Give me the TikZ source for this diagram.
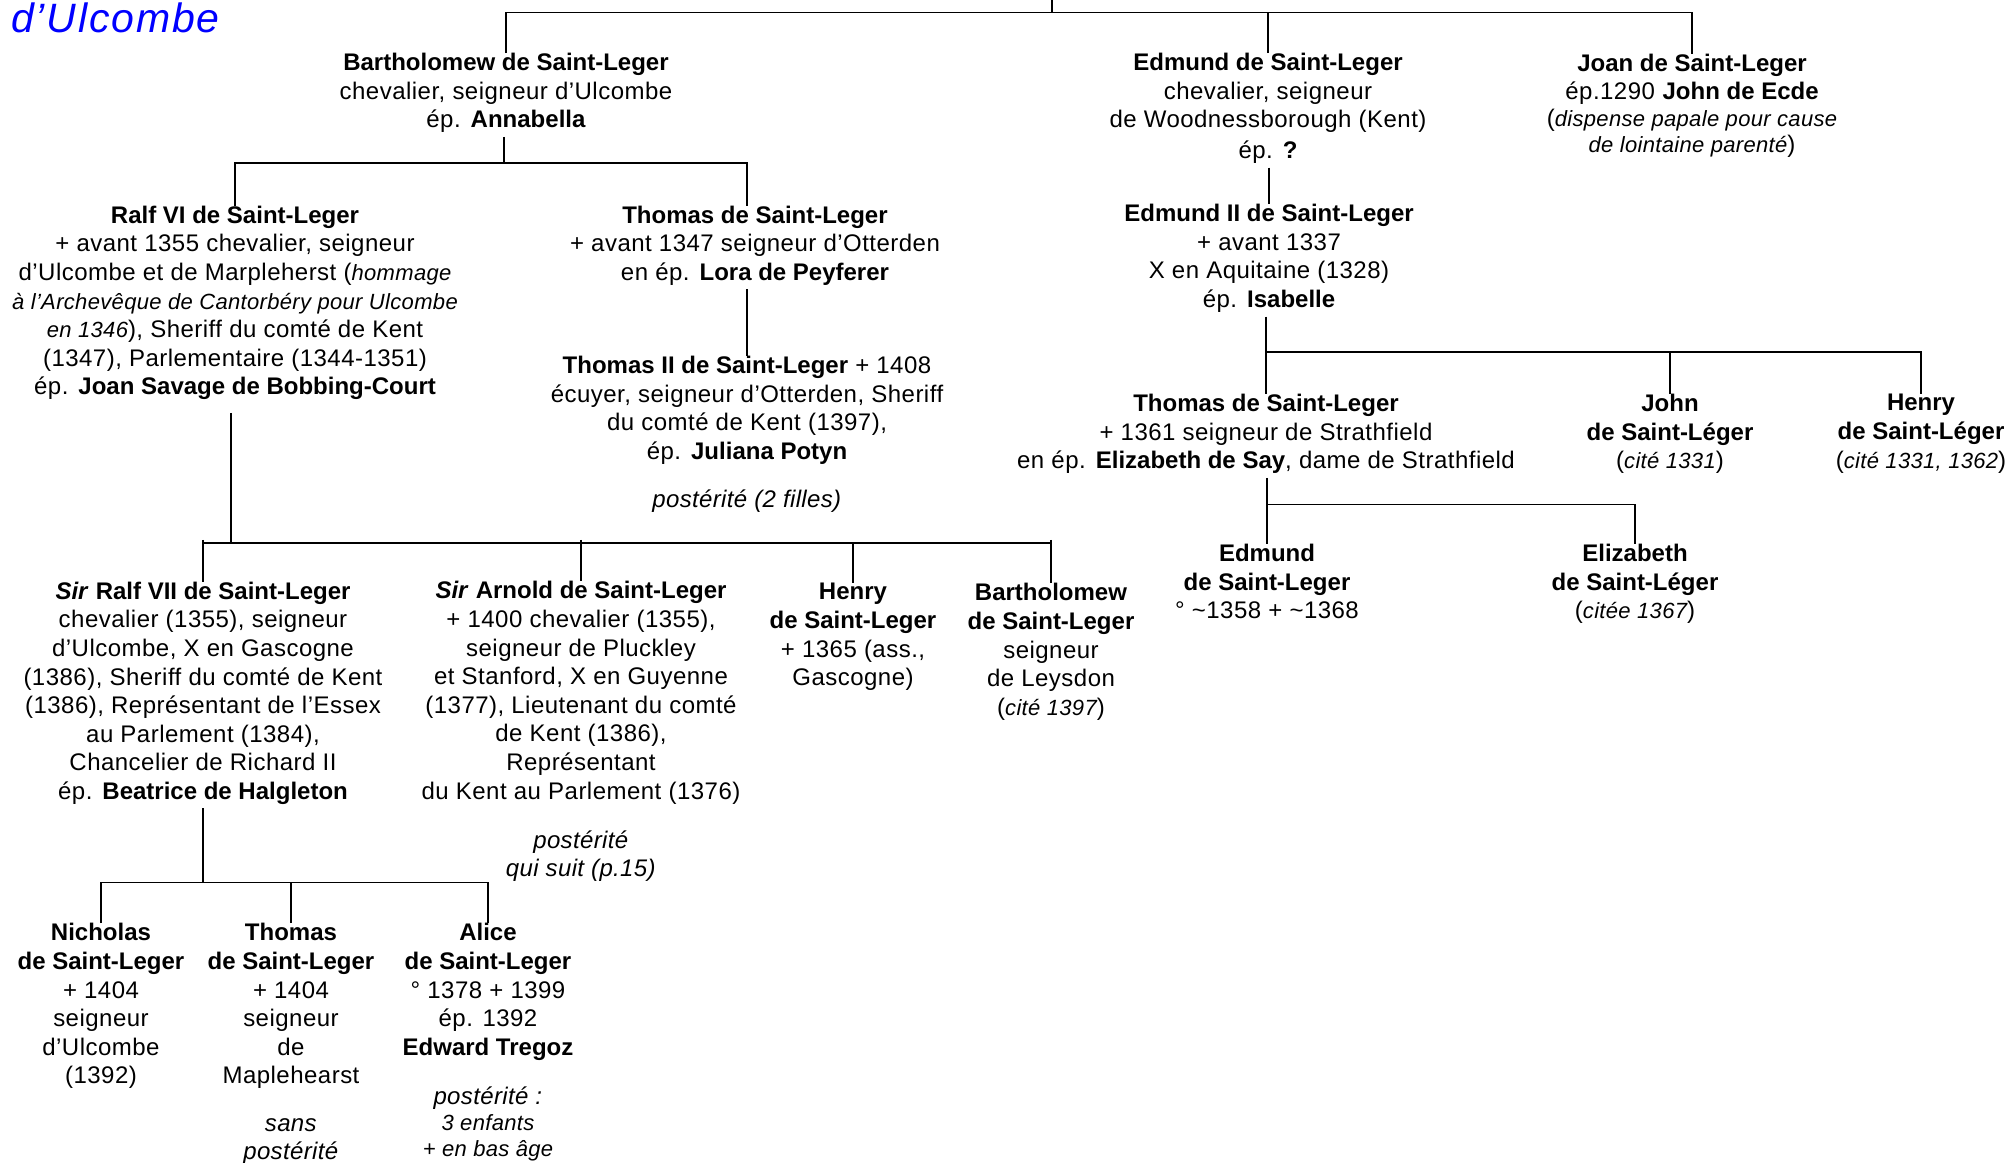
\documentclass[tikz,border=0pt]{standalone}
\usepackage{fontspec}
\setmainfont{Liberation Sans}[UprightFeatures={LetterSpace=2.0},ItalicFeatures={LetterSpace=1.5}]
\newfontfamily\titlefont{Liberation Sans}[LetterSpace=4.4]
\usetikzlibrary{calc}
\definecolor{titleblue}{RGB}{0,0,255}
\newcommand{\smit}[1]{{\fontsize{11}{13}\selectfont\itshape #1}}
\begin{document}
\begin{tikzpicture}[x=0.5pt,y=-0.5pt,
  person/.style={align=center, inner sep=0pt, anchor=north,
    font=\fontsize{12}{14.3}\selectfont, execute at begin node=\strut},
  link/.style={line width=0.8pt},
  tick/.style={line width=0.8pt, shorten <=-1.6pt}]
\useasboundingbox (0,0) rectangle (2010,1163);

\node[anchor=base west, inner sep=0pt, text=titleblue,
  font=\titlefont\fontsize{20.5}{24}\selectfont\itshape] (title) at (11,32.3) {d’Ulcombe};

% generation 1
\node[person] (b1) at (506,53) {\textbf{Bartholomew de Saint-Leger}\\chevalier, seigneur d’Ulcombe\\ép. \textbf{Annabella}};
\node[person] (ed1) at (1268,53) {\textbf{Edmund de Saint-Leger}\\chevalier, seigneur\\de Woodnessborough (Kent)\\[1pt]ép. \textbf{?}};
\node[person] (joan) at (1692,53.5) {\textbf{Joan de Saint-Leger}\\ép.1290 \textbf{John de Ecde}\\[-1.2pt](\smit{dispense papale pour cause}\\[-1.2pt]\smit{de lointaine parenté})};

% generation 2
\node[person] (r6) at (235,205.5) {\textbf{Ralf VI de Saint-Leger}\\+ avant 1355 chevalier, seigneur\\d’Ulcombe et de Marpleherst (\smit{hommage}\\\smit{à l’Archevêque de Cantorbéry pour Ulcombe}\\\smit{en 1346}), Sheriff du comté de Kent\\(1347), Parlementaire (1344-1351)\\ép. \textbf{Joan Savage de Bobbing-Court}};
\node[person] (t1) at (755,205.5) {\textbf{Thomas de Saint-Leger}\\+ avant 1347 seigneur d’Otterden\\en ép. \textbf{Lora de Peyferer}};
\node[person] (ed2) at (1269,204) {\textbf{Edmund II de Saint-Leger}\\+ avant 1337\\X en Aquitaine (1328)\\ép. \textbf{Isabelle}};

\node[person] (t2) at (747,356) {\textbf{Thomas II de Saint-Leger} + 1408\\écuyer, seigneur d’Otterden, Sheriff\\du comté de Kent (1397),\\ép. \textbf{Juliana Potyn}};
\node[person] (t2post) at (747,487.5) {\textit{postérité (2 filles)}};

\node[person] (t3) at (1266,394) {\textbf{Thomas de Saint-Leger}\\+ 1361 seigneur de Strathfield\\en ép. \textbf{Elizabeth de Say}, dame de Strathfield};
\node[person] (john) at (1670,394) {\textbf{John}\\\textbf{de Saint-Léger}\\(\smit{cité 1331})};
\node[person] (hy) at (1921,394) {\textbf{Henry}\\\textbf{de Saint-Léger}\\(\smit{cité 1331, 1362})};

\node[person] (ed3) at (1267,544) {\textbf{Edmund}\\\textbf{de Saint-Leger}\\° \textasciitilde1358 + \textasciitilde1368};
\node[person] (eliz) at (1635,544) {\textbf{Elizabeth}\\\textbf{de Saint-Léger}\\(\smit{citée 1367})};

% children of Ralf VI
\node[person] (r7) at (203,581.5) {\textbf{\textit{Sir}} \textbf{Ralf VII de Saint-Leger}\\chevalier (1355), seigneur\\d’Ulcombe, X en Gascogne\\(1386), Sheriff du comté de Kent\\(1386), Représentant de l’Essex\\au Parlement (1384),\\Chancelier de Richard II\\ép. \textbf{Beatrice de Halgleton}};
\node[person] (ar) at (581,581) {\textbf{\textit{Sir}} \textbf{Arnold de Saint-Leger}\\+ 1400 chevalier (1355),\\seigneur de Pluckley\\et Stanford, X en Guyenne\\(1377), Lieutenant du comté\\de Kent (1386),\\Représentant\\du Kent au Parlement (1376)};
\node[person] (arpost) at (581,830) {\textit{postérité}\\\textit{qui suit (p.15)}};
\node[person] (hn) at (853,583) {\textbf{Henry}\\\textbf{de Saint-Leger}\\+ 1365 (ass.,\\Gascogne)};
\node[person] (bw) at (1051,583) {\textbf{Bartholomew}\\\textbf{de Saint-Leger}\\seigneur\\de Leysdon\\(\smit{cité 1397})};

% children of Ralf VII
\node[person] (ni) at (101,923) {\textbf{Nicholas}\\\textbf{de Saint-Leger}\\+ 1404\\seigneur\\d’Ulcombe\\(1392)};
\node[person] (th) at (291,923) {\textbf{Thomas}\\\textbf{de Saint-Leger}\\+ 1404\\seigneur\\de\\Maplehearst};
\node[person] (thpost) at (291,1118) {\textit{sans}\\\textit{postérité}};
\node[person] (al) at (488,923) {\textbf{Alice}\\\textbf{de Saint-Leger}\\° 1378 + 1399\\ép. 1392\\\textbf{Edward Tregoz}};
\node[person] (alpost) at (488,1086) {\textit{postérité :}\\[-1.3pt]\smit{3 enfants}\\[-1.3pt]\smit{+ en bas âge}};

% connectors
\coordinate (topend) at (1052,0);
\coordinate (bar0) at (1052,12.3);
\draw[link] (topend) -- (bar0);
\draw[link] (b1.north) |- (bar0) -| (joan.north);
\draw[link] (ed1.north) -- (ed1.north |- bar0);

\coordinate (bar1) at (504,163);
\draw[link] (b1.south -| bar1) -- (bar1);
\draw[link] (r6.north) |- (bar1) -| (t1.north -| t2.north);
\draw[link] (t1.south -| t2.north) -- (t2.north);

\coordinate (bar3) at (231,543);
\draw[link, shorten <=4.5pt] (bar3 |- r6.south) -- (bar3);
\draw[link] (r7.north |- bar3) -- (bw.north |- bar3);
\draw[tick] (r7.north |- bar3) -- (r7.north);
\draw[tick] (ar.north |- bar3) -- (ar.north);
\draw[link] (hn.north |- bar3) -- (hn.north);
\draw[tick] (bw.north |- bar3) -- (bw.north);

\coordinate (bar4) at (203,882.3);
\draw[link] (r7.south) -- (bar4);
\draw[link] (ni.north) |- (bar4) -| (al.north);
\draw[link] (th.north) -- (th.north |- bar4);

\draw[link] (ed1.south -| ed2.north) -- (ed2.north);
\coordinate (bar5) at (1266.7,351.7);
\draw[link] (ed2.south -| t3.north) -- (t3.north);
\draw[link] (t3.north |- bar5) -| (hy.north);
\draw[link] (john.north) -- (john.north |- bar5);

\coordinate (bar6) at (1266,504.3);
\draw[link] (t3.south -| ed3.north) -- (ed3.north);
\draw[link] (ed3.north |- bar6) -| (eliz.north);
\end{tikzpicture}
\end{document}
